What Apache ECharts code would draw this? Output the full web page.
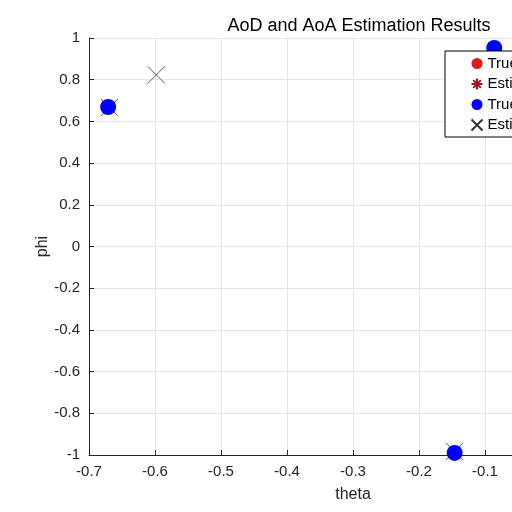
<!DOCTYPE html>
<html>
<head>
<meta charset="utf-8">
<script src="https://cdn.jsdelivr.net/npm/echarts@6/dist/echarts.min.js"></script>
<style>
html, body { margin: 0; padding: 0; background: #fff; }
#chart { width: 512px; height: 512px; }
</style>
</head>
<body>
<div id="chart"></div>
<script>
// 数据
const trueAoD = []
const estAoD = []
const trueAoA = [[-0.671, 0.669], [-0.146, -0.99], [-0.086, 0.952]]
const estAoA = [[-0.669, 0.667], [-0.598, 0.823], [-0.146, -0.983]]
const legendNames = ['True AoD', 'Estimated AoD', 'True AoA', 'Estimated AoA']

const starPath = 'path://M5,0L5,10M0,5L10,5M1.5,1.5L8.5,8.5M8.5,1.5L1.5,8.5'
const crossPath = 'path://M0,0L10,10M10,0L0,10'
const axisColor = '#262626'
const font = 'Liberation Sans'

var myChart = echarts.init(document.getElementById('chart'))
var option = {
	animation: false,
	title: {
		text: 'AoD and AoA Estimation Results',
		left: 354,
		textAlign: 'center',
		top: 12,
		textStyle: { color: '#000', fontSize: 18, fontWeight: 'normal', fontFamily: font }
	},
	legend: {
		orient: 'vertical',
		left: 445,
		top: 51,
		data: legendNames,
		backgroundColor: '#fff',
		borderColor: '#000',
		borderWidth: 1,
		padding: [5, 40, 4, 24],
		itemWidth: 11,
		itemHeight: 11,
		itemGap: 5,
		textStyle: { color: '#000', fontSize: 15, fontFamily: font }
	},
	grid: {
		left: 89,
		top: 38,
		right: -105,
		bottom: 57,
		outerBoundsMode: 'none'
	},
	xAxis: {
		type: 'value',
		min: -0.7,
		max: 0.1,
		interval: 0.1,
		name: 'theta',
		nameLocation: 'middle',
		nameGap: 32,
		nameTextStyle: { color: axisColor, fontSize: 16, fontFamily: font },
		axisLine: { onZero: false, lineStyle: { color: axisColor } },
		axisTick: { inside: true, length: 5, lineStyle: { color: axisColor } },
		axisLabel: {
			color: axisColor, fontSize: 15, margin: 9, fontFamily: font,
			formatter: function(v) { return parseFloat(v.toFixed(1)).toString() }
		},
		splitLine: { show: true, lineStyle: { color: '#e6e6e6' } }
	},
	yAxis: {
		type: 'value',
		min: -1,
		max: 1,
		interval: 0.2,
		name: 'phi',
		nameLocation: 'middle',
		nameGap: 38,
		nameMoveOverlap: false,
		nameRotate: 90,
		nameTextStyle: { color: axisColor, fontSize: 16, fontFamily: font },
		axisLine: { show: true, onZero: false, lineStyle: { color: axisColor } },
		axisTick: { show: true, inside: true, length: 5, lineStyle: { color: axisColor } },
		axisLabel: {
			color: axisColor, fontSize: 15, margin: 9, fontFamily: font,
			formatter: function(v) { return parseFloat(v.toFixed(1)).toString() }
		},
		splitLine: { show: true, lineStyle: { color: '#e6e6e6' } }
	},
	series: [{
		name: 'True AoD',
		type: 'scatter',
		symbol: 'circle',
		symbolSize: 16,
		itemStyle: { color: '#e3191c', opacity: 1 },
		data: trueAoD
	}, {
		name: 'Estimated AoD',
		type: 'scatter',
		symbol: starPath,
		symbolSize: 14,
		itemStyle: { color: 'none', borderColor: '#a2141f', borderWidth: 1, opacity: 1 },
		data: estAoD
	}, {
		name: 'Estimated AoA',
		type: 'scatter',
		symbol: crossPath,
		symbolSize: 17,
		itemStyle: { color: 'none', borderColor: '#333', borderWidth: 0.8, opacity: 1 },
		data: estAoA
	}, {
		name: 'True AoA',
		type: 'scatter',
		symbol: 'circle',
		symbolSize: 16,
		itemStyle: { color: '#0000ff', opacity: 1 },
		data: trueAoA
	}]
}
myChart.setOption(option)
</script>
</body>
</html>
